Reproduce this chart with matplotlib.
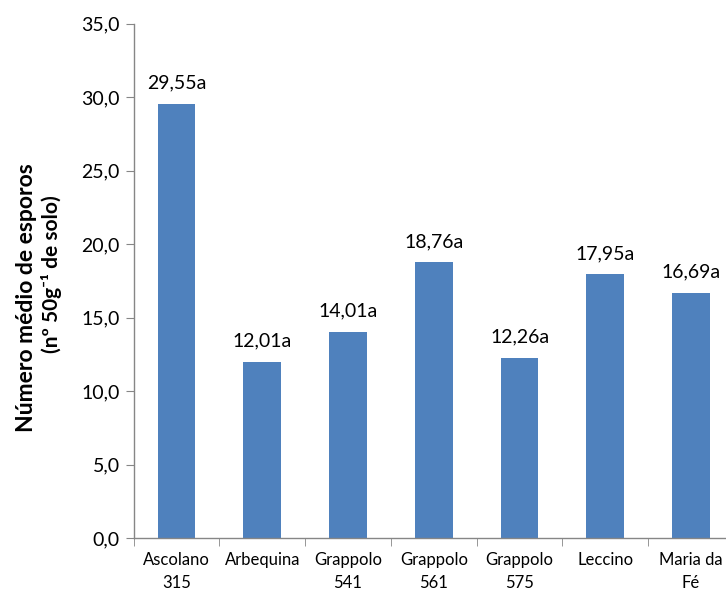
import matplotlib.pyplot as plt
from matplotlib.ticker import FixedLocator, MultipleLocator, FuncFormatter

plt.rcParams["font.family"] = ["Lato", "DejaVu Sans"]

# dados
cultivares = ["Ascolano\n315", "Arbequina", "Grappolo\n541", "Grappolo\n561",
              "Grappolo\n575", "Leccino", "Maria da\nFé"]
esporos = [29.55, 12.01, 14.01, 18.76, 12.26, 17.95, 16.69]
letras = ["a", "a", "a", "a", "a", "a", "a"]

fig = plt.figure(figsize=(7.26, 5.96), dpi=100)
ax = fig.add_axes([0.184, 0.097, 0.827, 0.863])

pos = list(range(len(cultivares)))
ax.bar(pos, esporos, width=0.44, color="#4F81BD", zorder=2)

for p, v, l in zip(pos, esporos, letras):
    txt = f"{v:.2f}".replace(".", ",") + l
    ax.annotate(txt, (p, v), xytext=(0, 9), textcoords="offset points",
                ha="center", va="bottom", fontsize=14, color="black")

ax.set_xlim(-0.5, len(cultivares) - 0.5)
ax.set_ylim(0, 35)
ax.yaxis.set_major_locator(MultipleLocator(5))
ax.yaxis.set_major_formatter(FuncFormatter(lambda y, _: f"{y:.1f}".replace(".", ",")))

ax.set_xticks(pos)
ax.set_xticklabels(cultivares, fontsize=12, linespacing=1.55)
ax.xaxis.set_minor_locator(FixedLocator([p - 0.5 for p in pos] + [len(pos) - 0.5]))
ax.tick_params(axis="x", which="major", length=0, pad=10)
ax.tick_params(axis="x", which="minor", length=6, color="#868686", direction="out")
ax.tick_params(axis="y", length=6, color="#868686", labelsize=14, pad=4)

for s in ["top", "right"]:
    ax.spines[s].set_visible(False)
for s in ["left", "bottom"]:
    ax.spines[s].set_color("#868686")
    ax.spines[s].set_linewidth(1.0)

fig.text(0.036, 0.50, "Número médio de esporos", rotation=90, ha="center", va="center",
         fontsize=16.5, fontweight="bold")
fig.text(0.071, 0.54, "(nº 50g⁻¹ de solo)", rotation=90, ha="center",
         va="center", fontsize=15, fontweight="bold")

fig.savefig("out.png", dpi=100)
